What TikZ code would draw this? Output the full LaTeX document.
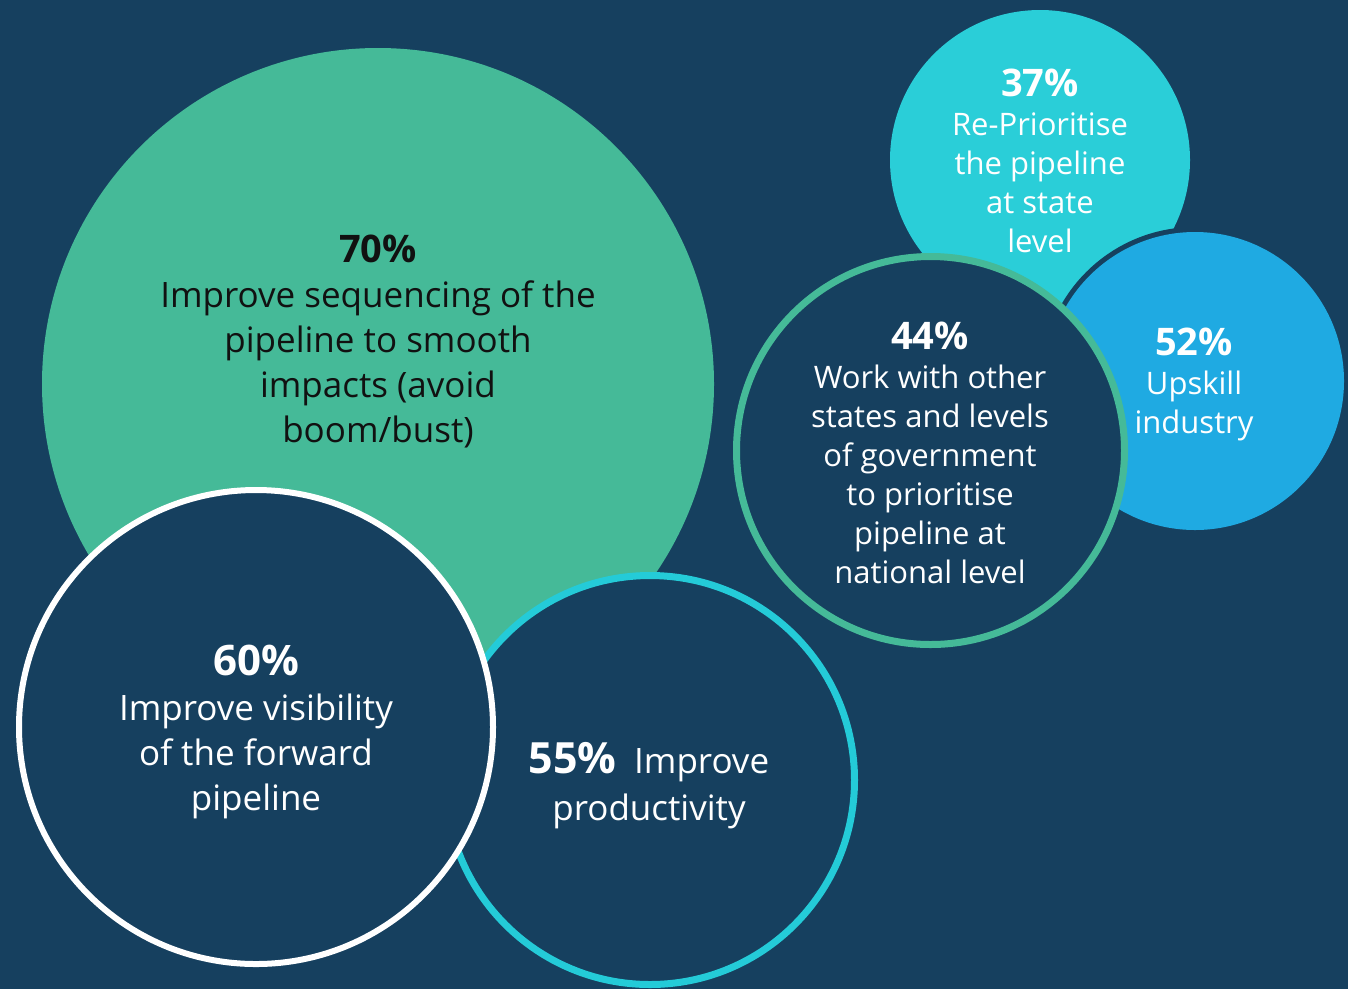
\documentclass[tikz,border=0pt]{standalone}
\usepackage{fontspec}
\setmainfont{Open Sans}
\definecolor{bgnavy}{RGB}{22,64,95}
\definecolor{bubgreen}{RGB}{69,186,152}
\definecolor{bubcyan}{RGB}{42,206,216}
\definecolor{ringcyan}{RGB}{36,203,216}
\definecolor{bubblue}{RGB}{31,170,226}
\definecolor{darktext}{RGB}{17,17,17}
\newcommand{\pct}[2]{{\bfseries\fontsize{#1}{#1}\selectfont #2}}
\begin{document}
\begin{tikzpicture}[x=1pt,y=-1pt,
  bigtxt/.style={font=\fontsize{35}{45}\selectfont, align=center, inner sep=0pt, anchor=base, text=white},
  smalltxt/.style={font=\fontsize{31}{39}\selectfont, align=center, inner sep=0pt, anchor=base, text=white}]
\fill[bgnavy] (0,0) rectangle (1348,989);
\useasboundingbox (0,0) rectangle (1348,989);
% 37%
\fill[bubcyan] (1040,160) circle[radius=150];
% 52% with navy outline
\fill[bgnavy] (1195,381) circle[radius=154];
\fill[bubblue] (1195,381) circle[radius=149];
% 44%
\draw[line width=7pt, draw=bubgreen, fill=bgnavy] (930.5,450.5) circle[radius=194];
% 70%
\fill[bubgreen] (378,384) circle[radius=336];
% 55%
\draw[line width=7pt, draw=ringcyan, fill=bgnavy] (650,780) circle[radius=204.5];
% 60%
\draw[line width=6pt, draw=white, fill=bgnavy] (256,727) circle[radius=237];
% texts
\node[bigtxt, text=darktext] (t70) at (378,442) {\pct{38}{70\%}\\Improve sequencing of the\\pipeline to smooth\\impacts (avoid\\boom/bust)};
\node[bigtxt] (t60) at (256,810) {\pct{42}{60\%}\\Improve visibility\\of the forward\\pipeline};
\node[bigtxt, font=\fontsize{35}{47}\selectfont] (t55) at (649,820) {\pct{43}{55\%}\enspace Improve\\productivity};
\node[smalltxt] (t44) at (930,583) {\pct{38}{44\%}\\Work with other\\states and levels\\of government\\to prioritise\\pipeline at\\national level};
\node[smalltxt] (t37) at (1040,252) {\pct{38}{37\%}\\Re-Prioritise\\the pipeline\\at state\\level};
\node[smalltxt] (t52) at (1194,433) {\pct{38}{52\%}\\Upskill\\industry};
\end{tikzpicture}
\end{document}
